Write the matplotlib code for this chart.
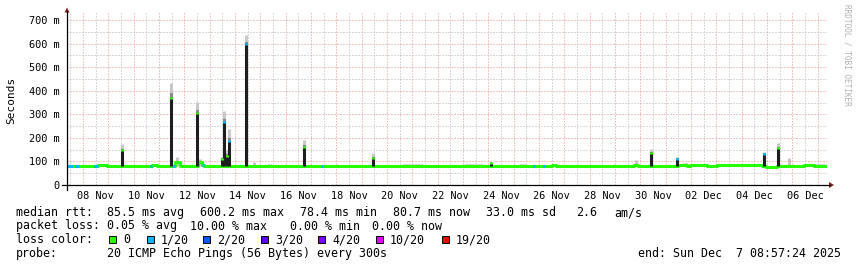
import numpy as np
import pandas as pd
import matplotlib
matplotlib.use("Agg")
import matplotlib.pyplot as plt
import matplotlib.dates as mdates
from matplotlib.lines import Line2D
from matplotlib.patches import Polygon, Rectangle
from matplotlib.ticker import MultipleLocator, FuncFormatter, NullFormatter

plt.rcParams['font.family'] = ['DejaVu Sans Mono', 'DejaVu Sans']

W, H = 857, 267

t_start = pd.Timestamp("2025-11-07 08:57:24")
t_end = pd.Timestamp("2025-12-07 08:57:24")

# median rtt in ms as steps: time the level starts, level, lost pings (of 20)
base_t = ["2025-11-07 08:57", "2025-11-07 14:40", "2025-11-07 16:30", "2025-11-07 20:20",
          "2025-11-08 10:50", "2025-11-08 14:00", "2025-11-08 22:35", "2025-11-10 15:35",
          "2025-11-10 17:30", "2025-11-10 22:15", "2025-11-11 12:25", "2025-11-11 15:15",
          "2025-11-11 20:05", "2025-11-12 13:05", "2025-11-12 16:35", "2025-11-12 18:45",
          "2025-11-17 09:40", "2025-11-17 11:35", "2025-11-25 18:30", "2025-11-25 20:25",
          "2025-11-26 04:00", "2025-11-26 05:50", "2025-11-26 12:30", "2025-11-26 16:15",
          "2025-11-29 18:10", "2025-11-29 22:00", "2025-12-01 11:50", "2025-12-01 20:25",
          "2025-12-01 23:15", "2025-12-02 15:25", "2025-12-03 00:50", "2025-12-04 19:30",
          "2025-12-04 23:15", "2025-12-05 09:45", "2025-12-06 11:30", "2025-12-06 21:00"]
base_ms = [80, 80, 80, 80, 80, 85, 80, 82, 84, 80, 80, 97, 80, 97, 84, 80, 80, 80, 80, 80,
           80, 80, 84, 80, 86, 80, 84, 79, 84, 79, 86, 80, 78, 81, 83, 81]
base_loss = [1, 0, 1, 0, 1, 0, 0, 1, 0, 0, 1, 0, 0, 0, 1, 0, 1, 0, 1, 0,
             1, 0, 0, 0, 0, 0, 0, 0, 0, 0, 0, 0, 0, 0, 0, 0]

# latency spikes: time, median peak (ms), lost pings, top of smoke (ms)
spike_t = ["2025-11-09 12:45", "2025-11-11 11:30", "2025-11-12 12:10", "2025-11-13 11:35",
           "2025-11-13 13:25", "2025-11-13 16:05", "2025-11-13 18:30", "2025-11-14 10:35",
           "2025-11-16 17:30", "2025-11-19 10:25", "2025-11-24 02:40", "2025-11-30 10:20",
           "2025-12-01 10:50", "2025-12-04 21:20", "2025-12-05 10:10"]
spike_ms = [151, 372, 308, 113, 269, 125, 188, 601, 163, 118, 95, 140, 113, 134, 158]
spike_loss = [0, 0, 0, 0, 1, 0, 1, 1, 0, 0, 0, 0, 1, 1, 0]
spike_smoke = [172, 432, 354, 120, 312, 150, 236, 636, 192, 134, 98, 152, 118, 142, 178]

# lone smoke puffs above the median line
puff_t = ["2025-11-11 17:00", "2025-11-12 14:50", "2025-11-14 18:10", "2025-11-29 20:00",
          "2025-12-05 20:55"]
puff_ms = [120, 110, 96, 106, 113]

# light haze over stretches of the median line
haze_t0 = ["2025-11-15 07:20", "2025-11-16 02:15", "2025-11-20 15:10", "2025-11-23 02:00",
           "2025-11-25 06:05", "2025-12-01 16:35", "2025-12-06 18:50"]
haze_t1 = ["2025-11-15 11:05", "2025-11-16 13:45", "2025-11-21 10:10", "2025-11-23 19:00",
           "2025-11-25 12:50", "2025-12-01 21:25", "2025-12-07 07:20"]
haze_ms = [88, 87, 88, 88, 88, 94, 88]

loss_colors = {0: '#26ff00', 1: '#00b8ff', 2: '#0059ff', 3: '#5e00ff',
               4: '#7e00ff', 10: '#dd00ff', 19: '#ff0000'}
loss_labels = ['0', '1/20', '2/20', '3/20', '4/20', '10/20', '19/20']

stats_rtt = [85.5, 600.2, 78.4, 80.7, 33.0, 2.6]
stats_loss = [0.05, 10.00, 0.00, 0.00]


def num(ts):
    return mdates.date2num(pd.to_datetime(ts).values)


def fx(x):
    return x / W


def fy(y):
    return 1 - y / H


fig = plt.figure(figsize=(W / 100, H / 100), dpi=100)
fig.patch.set_facecolor('white')
ax = fig.add_axes([fx(67), fy(185), 760 / W, 172 / H])

bt = num(base_t)
be = np.append(bt[1:], num([t_end])[0])
lw = 2.2

# median line
ax.step(np.append(bt, be[-1]), base_ms + [base_ms[-1]], where='post',
        color=loss_colors[0], lw=lw, zorder=3)
for t0, t1, v, l in zip(bt, be, base_ms, base_loss):
    if l:
        ax.plot([t0, t1], [v, v], color=loss_colors[l], lw=lw,
                solid_capstyle='butt', zorder=3.5)

# haze
for t0, t1, v in zip(num(haze_t0), num(haze_t1), haze_ms):
    ax.fill_between([t0, t1], 81, v, color='#d6d6d6', lw=0, zorder=2)

# puffs
ax.vlines(num(puff_t), 82, puff_ms, color='#c4c4c4', lw=lw, zorder=2)

# spikes
st = num(spike_t)
for t, p, l, s in zip(st, spike_ms, spike_loss, spike_smoke):
    mid = p + (s - p) * 0.35
    ax.vlines(t, p, mid, color='#8a8a8a', lw=lw, zorder=4)
    ax.vlines(t, mid, s, color='#c8c8c8', lw=lw, zorder=4)
    ax.vlines(t, 79, p, color='#1e1e1e', lw=lw, zorder=4)
    ax.vlines(t, p - 7, p + 2, color=loss_colors[l], lw=lw, zorder=5)

ax.set_xlim(num([t_start])[0], num([t_end])[0])
ax.set_ylim(0, 730)

# grid
ax.xaxis.set_major_locator(mdates.DayLocator())
ax.xaxis.set_minor_locator(mdates.HourLocator(byhour=[12]))
ax.xaxis.set_major_formatter(NullFormatter())
ax.xaxis.set_minor_formatter(FuncFormatter(
    lambda v, p: mdates.num2date(v).strftime('%d %b') if mdates.num2date(v).day % 2 == 0 else ''))
ax.yaxis.set_major_locator(MultipleLocator(100))
ax.yaxis.set_minor_locator(MultipleLocator(50))
ax.yaxis.set_major_formatter(FuncFormatter(lambda v, p: '0' if v == 0 else '%d m' % v))
ax.grid(which='major', color='#e88c8c', linestyle=(0, (1, 2)), lw=0.72)
ax.grid(which='minor', color='#b4b4b4', linestyle=(0, (1, 2)), lw=0.72)
ax.set_axisbelow(True)
ax.tick_params(which='both', length=0, labelsize=7.4, colors='black')
ax.tick_params(axis='x', which='minor', pad=4)
ax.tick_params(axis='y', pad=5.5)
for s in ax.spines.values():
    s.set_visible(False)
ax.set_facecolor('white')

# axes with arrows
fig.add_artist(Line2D([fx(62), fx(830)], [fy(185), fy(185)], color='black', lw=0.9))
fig.add_artist(Line2D([fx(67), fx(67)], [fy(190), fy(11)], color='black', lw=0.9))
fig.add_artist(Polygon([(fx(829), fy(182)), (fx(829), fy(188)), (fx(834), fy(185))],
                       closed=True, color='#8b1a1a', lw=0))
fig.add_artist(Polygon([(fx(64.5), fy(12.5)), (fx(69.5), fy(12.5)), (fx(67), fy(7.5))],
                       closed=True, color='#8b1a1a', lw=0))

fig.text(fx(11), fy(100), 'Seconds', rotation=90, ha='center', va='center', fontsize=8)
fig.text(fx(847.5), fy(4), 'RRDTOOL / TOBI OETIKER', rotation=270, ha='center', va='top',
         fontsize=5.6, color='#b0b0b0')

# legend block
fs = 8.4
y1, y2, y3, y4 = 216, 229.5, 243.3, 256.7
line1 = [(16, 'median rtt:'), (107, '%.1f ms avg' % stats_rtt[0]),
         (200, '%.1f ms max' % stats_rtt[1]), (300, '%.1f ms min' % stats_rtt[2]),
         (393, '%.1f ms now' % stats_rtt[3]), (486, '%.1f ms sd' % stats_rtt[4]),
         (576, '%.1f' % stats_rtt[5]), (614, 'am/s')]
for x, s in line1:
    fig.text(fx(x), fy(y1), s, fontsize=fs, va='baseline')
line2 = [(16, 'packet loss:'), (107, '%.2f %% avg' % stats_loss[0]),
         (190, '%.2f %% max' % stats_loss[1]), (290, '%.2f %% min' % stats_loss[2]),
         (372, '%.2f %% now' % stats_loss[3])]
for x, s in line2:
    fig.text(fx(x), fy(y2), s, fontsize=fs, va='baseline')
fig.text(fx(16), fy(y3), 'loss color:', fontsize=fs, va='baseline')
box_x = [109, 147, 203, 261, 318, 376, 442]
for bx, lab, key in zip(box_x, loss_labels, [0, 1, 2, 3, 4, 10, 19]):
    fig.add_artist(Rectangle((fx(bx), fy(y3)), 7 / W, 7.5 / H, facecolor=loss_colors[key],
                             edgecolor='black', lw=0.7))
    fig.text(fx(bx + 14), fy(y3), lab, fontsize=fs, va='baseline')
fig.text(fx(16), fy(y4), 'probe:', fontsize=fs, va='baseline')
fig.text(fx(107), fy(y4), '20 ICMP Echo Pings (56 Bytes) every 300s', fontsize=fs, va='baseline')
fig.text(fx(841), fy(y4), 'end: Sun Dec  7 08:57:24 2025', fontsize=fs, va='baseline', ha='right')

fig.savefig('out.png', dpi=100, facecolor='white')
